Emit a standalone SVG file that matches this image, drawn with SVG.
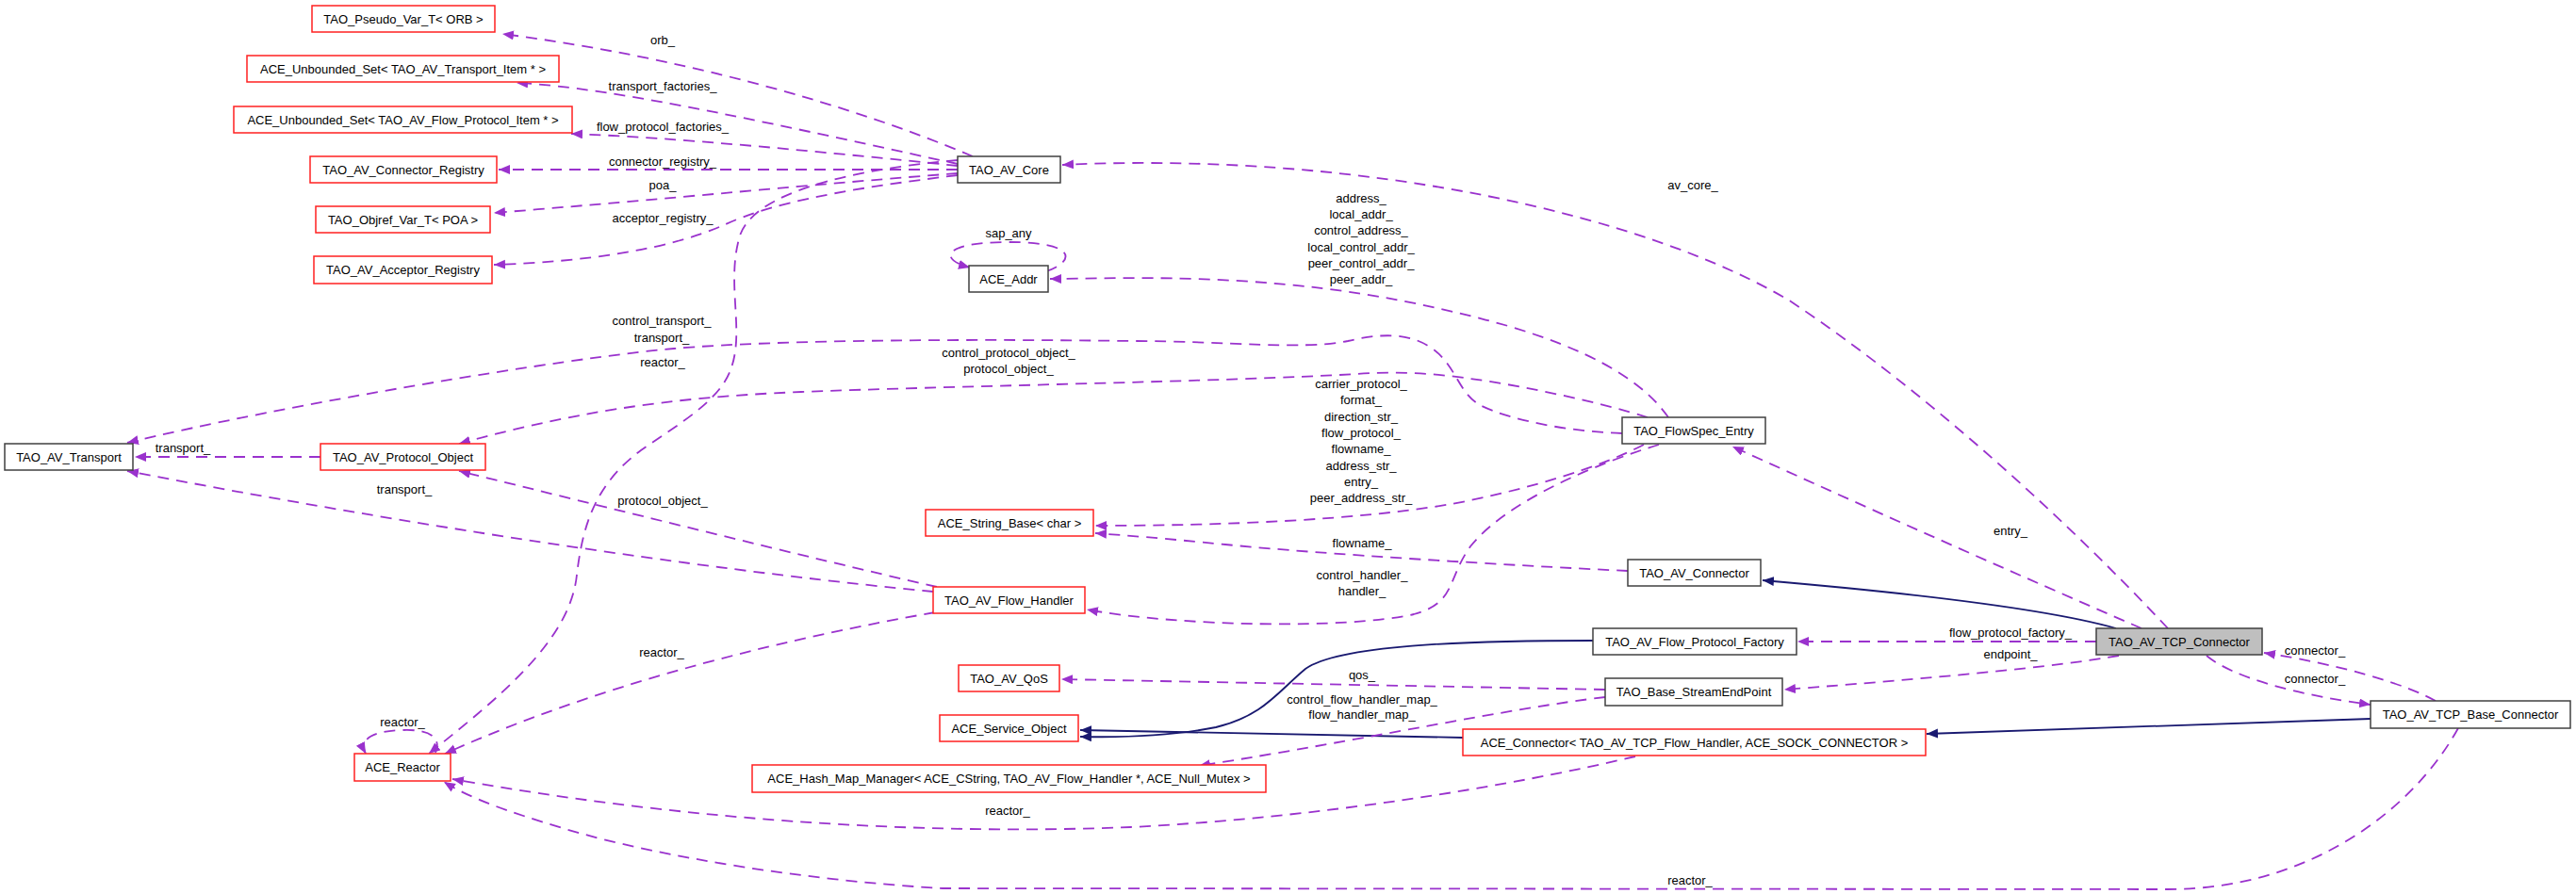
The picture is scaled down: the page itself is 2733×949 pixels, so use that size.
<svg xmlns="http://www.w3.org/2000/svg" width="2733" height="949" viewBox="0 0 2733 949">
<style>
.n rect{fill:#fff;stroke-width:1.5}
.r rect{stroke:#ff2020}
.b rect{stroke:#404040}
.g rect{fill:#bfbfbf}
text{font-family:"Liberation Sans",Arial,sans-serif;font-size:13px;fill:#000;text-anchor:middle}
.e{fill:none;stroke:#9a32cd;stroke-width:1.8;stroke-dasharray:12,8;marker-end:url(#ap)}
.i{fill:none;stroke:#191970;stroke-width:1.8;marker-end:url(#ab)}
</style>
<defs>
<marker id="ap" markerUnits="userSpaceOnUse" markerWidth="13" markerHeight="11" refX="12" refY="5" orient="auto"><path d="M0,0 L12,5 L0,10 z" fill="#9a32cd"/></marker>
<marker id="ab" markerUnits="userSpaceOnUse" markerWidth="13" markerHeight="11" refX="12" refY="5" orient="auto"><path d="M0,0 L12,5 L0,10 z" fill="#191970"/></marker>
</defs>
<rect width="2733" height="949" fill="#fff"/>
<g id="connectors">
<path class="e" d="M1032,166 C900,110 720,60 533,36"/>
<path class="e" d="M1016,174 C850,138 650,92 548,88"/>
<path class="e" d="M1016,176 C880,162 720,146 606,142"/>
<path class="e" d="M1016,180 L529,180"/>
<path class="e" d="M1016,184 C880,194 700,212 524,226"/>
<path class="e" d="M1016,186 C900,200 820,215 770,238 C710,265 620,278 524,281"/>
<path class="e" d="M1016,170 C900,180 800,205 785,250 C770,300 790,350 776,390 C765,425 720,450 680,478 C630,515 618,560 612,610 C605,680 530,740 455,800"/>
<path class="e" d="M1721,460 C1660,458 1600,445 1570,430 C1545,415 1545,385 1515,367 C1490,352 1460,355 1430,362 C1380,372 1300,362 1200,362 C1050,360 830,360 715,370 C600,380 300,430 135,470"/>
<path class="e" d="M1748,443 C1700,428 1620,410 1560,402 C1520,396 1480,394 1440,397 C1300,405 1000,410 850,416 C700,422 600,440 487,471"/>
<path class="e" d="M1770,443 C1740,400 1680,370 1600,346 C1500,318 1400,300 1266,296 C1200,294 1150,296 1114,296"/>
<path class="e" d="M1744,472 C1700,495 1620,520 1540,535 C1440,552 1300,558 1162,558"/>
<path class="e" d="M1727,606 C1600,600 1400,588 1300,578 C1230,571 1190,568 1162,566"/>
<path class="e" d="M1760,472 C1700,490 1600,530 1560,580 C1535,615 1545,640 1500,652 C1430,668 1250,665 1153,647"/>
<path class="e" d="M2272,667 Q2060,575 1838,474"/>
<path class="e" d="M2300,667 C2200,560 2050,420 1900,320 C1750,230 1450,160 1127,175"/>
<path class="i" d="M2245,667 Q2150,640 1870,616"/>
<path class="e" d="M2224,681 L1907,681"/>
<path class="e" d="M2248,696 C2180,708 2050,720 1893,732"/>
<path class="e" d="M2584,744 C2550,725 2480,705 2402,693"/>
<path class="e" d="M2341,696 C2370,720 2440,738 2515,748"/>
<path class="i" d="M2515,763 L2044,779"/>
<path class="e" d="M2608,773 C2560,860 2450,944 2300,944 L1000,943 C860,935 700,910 600,880 C540,862 500,848 471,830"/>
<path class="e" d="M1735,803 C1600,835 1400,868 1200,878 C1000,886 750,875 480,827"/>
<path class="e" d="M992,650 C850,675 650,720 472,800"/>
<path class="e" d="M994,623 C850,590 650,540 487,500"/>
<path class="e" d="M990,628 C800,610 500,570 135,500"/>
<path class="e" d="M340,485 L143,485"/>
<path class="i" d="M1690,680 C1550,680 1420,685 1385,710 C1355,735 1340,760 1290,772 C1240,782 1190,783 1146,782"/>
<path class="i" d="M1552,783 L1146,775"/>
<path class="e" d="M1703,732 L1126,721"/>
<path class="e" d="M1703,740 C1600,752 1450,785 1272,813"/>
<path class="e" d="M1110,288 C1140,278 1145,257 1070,257 C1000,257 995,275 1029,284"/>
<path class="e" d="M462,799 C470,780 450,774 427,775 C395,776 380,785 388,800"/>
</g>
<g id="labels">
<text x="703" y="47">orb_</text>
<text x="703" y="96">transport_factories_</text>
<text x="703" y="139">flow_protocol_factories_</text>
<text x="703" y="176">connector_registry_</text>
<text x="703" y="201">poa_</text>
<text x="703" y="236">acceptor_registry_</text>
<text x="1070" y="252">sap_any</text>
<text x="1796" y="201">av_core_</text>
<text x="1444" y="215">address_</text>
<text x="1444" y="232">local_addr_</text>
<text x="1444" y="249">control_address_</text>
<text x="1444" y="267">local_control_addr_</text>
<text x="1444" y="284">peer_control_addr_</text>
<text x="1444" y="301">peer_addr_</text>
<text x="702" y="345">control_transport_</text>
<text x="702" y="363">transport_</text>
<text x="703" y="389">reactor_</text>
<text x="1070" y="379">control_protocol_object_</text>
<text x="1070" y="396">protocol_object_</text>
<text x="1444" y="412">carrier_protocol_</text>
<text x="1444" y="429">format_</text>
<text x="1444" y="447">direction_str_</text>
<text x="1444" y="464">flow_protocol_</text>
<text x="1444" y="481">flowname_</text>
<text x="1444" y="499">address_str_</text>
<text x="1444" y="516">entry_</text>
<text x="1444" y="533">peer_address_str_</text>
<text x="194" y="480">transport_</text>
<text x="429" y="524">transport_</text>
<text x="703" y="536">protocol_object_</text>
<text x="1445" y="581">flowname_</text>
<text x="1445" y="615">control_handler_</text>
<text x="1445" y="632">handler_</text>
<text x="2133" y="568">entry_</text>
<text x="2133" y="676">flow_protocol_factory_</text>
<text x="2133" y="699">endpoint_</text>
<text x="2456" y="695">connector_</text>
<text x="2456" y="725">connector_</text>
<text x="1445" y="721">qos_</text>
<text x="1445" y="747">control_flow_handler_map_</text>
<text x="1445" y="763">flow_handler_map_</text>
<text x="702" y="697">reactor_</text>
<text x="427" y="771">reactor_</text>
<text x="1069" y="865">reactor_</text>
<text x="1793" y="939">reactor_</text>
</g>
<g id="n1" class="n r"><rect x="331" y="6" width="194" height="28"/><text x="428" y="24.5">TAO_Pseudo_Var_T&lt; ORB &gt;</text></g>
<g id="n2" class="n r"><rect x="262" y="59" width="331" height="28"/><text x="427.5" y="77.5">ACE_Unbounded_Set&lt; TAO_AV_Transport_Item * &gt;</text></g>
<g id="n3" class="n r"><rect x="248" y="113" width="359" height="28"/><text x="427.5" y="131.5">ACE_Unbounded_Set&lt; TAO_AV_Flow_Protocol_Item * &gt;</text></g>
<g id="n4" class="n r"><rect x="329" y="166" width="198" height="28"/><text x="428" y="184.5">TAO_AV_Connector_Registry</text></g>
<g id="n5" class="n r"><rect x="335" y="219" width="185" height="28"/><text x="427.5" y="237.5">TAO_Objref_Var_T&lt; POA &gt;</text></g>
<g id="n6" class="n r"><rect x="333" y="272" width="189" height="29"/><text x="427.5" y="291">TAO_AV_Acceptor_Registry</text></g>
<g id="n7" class="n b"><rect x="1016" y="166" width="109" height="28"/><text x="1070.5" y="184.5">TAO_AV_Core</text></g>
<g id="n8" class="n b"><rect x="1028" y="282" width="84" height="28"/><text x="1070" y="300.5">ACE_Addr</text></g>
<g id="n9" class="n b"><rect x="5" y="471" width="136" height="28"/><text x="73" y="489.5">TAO_AV_Transport</text></g>
<g id="n10" class="n r"><rect x="340" y="471" width="175" height="28"/><text x="427.5" y="489.5">TAO_AV_Protocol_Object</text></g>
<g id="n11" class="n b"><rect x="1721" y="443" width="152" height="28"/><text x="1797" y="461.5">TAO_FlowSpec_Entry</text></g>
<g id="n12" class="n r"><rect x="982" y="541" width="178" height="28"/><text x="1071" y="559.5">ACE_String_Base&lt; char &gt;</text></g>
<g id="n13" class="n b"><rect x="1727" y="594" width="141" height="28"/><text x="1797.5" y="612.5">TAO_AV_Connector</text></g>
<g id="n14" class="n r"><rect x="990" y="623" width="161" height="28"/><text x="1070.5" y="641.5">TAO_AV_Flow_Handler</text></g>
<g id="n15" class="n b"><rect x="1690" y="667" width="216" height="28"/><text x="1798" y="685.5">TAO_AV_Flow_Protocol_Factory</text></g>
<g id="n16" class="n b g"><rect x="2224" y="667" width="176" height="28"/><text x="2312" y="685.5">TAO_AV_TCP_Connector</text></g>
<g id="n17" class="n r"><rect x="1017" y="706" width="107" height="28"/><text x="1070.5" y="724.5">TAO_AV_QoS</text></g>
<g id="n18" class="n b"><rect x="1703" y="720" width="188" height="29"/><text x="1797" y="739">TAO_Base_StreamEndPoint</text></g>
<g id="n19" class="n b"><rect x="2515" y="744" width="212" height="29"/><text x="2621" y="763">TAO_AV_TCP_Base_Connector</text></g>
<g id="n20" class="n r"><rect x="997" y="759" width="147" height="28"/><text x="1070.5" y="777.5">ACE_Service_Object</text></g>
<g id="n21" class="n r"><rect x="1552" y="774" width="491" height="28"/><text x="1797.5" y="792.5">ACE_Connector&lt; TAO_AV_TCP_Flow_Handler, ACE_SOCK_CONNECTOR &gt;</text></g>
<g id="n22" class="n r"><rect x="376" y="800" width="102" height="29"/><text x="427" y="819">ACE_Reactor</text></g>
<g id="n23" class="n r"><rect x="798" y="812" width="545" height="29"/><text x="1070.5" y="831">ACE_Hash_Map_Manager&lt; ACE_CString, TAO_AV_Flow_Handler *, ACE_Null_Mutex &gt;</text></g>
</svg>
